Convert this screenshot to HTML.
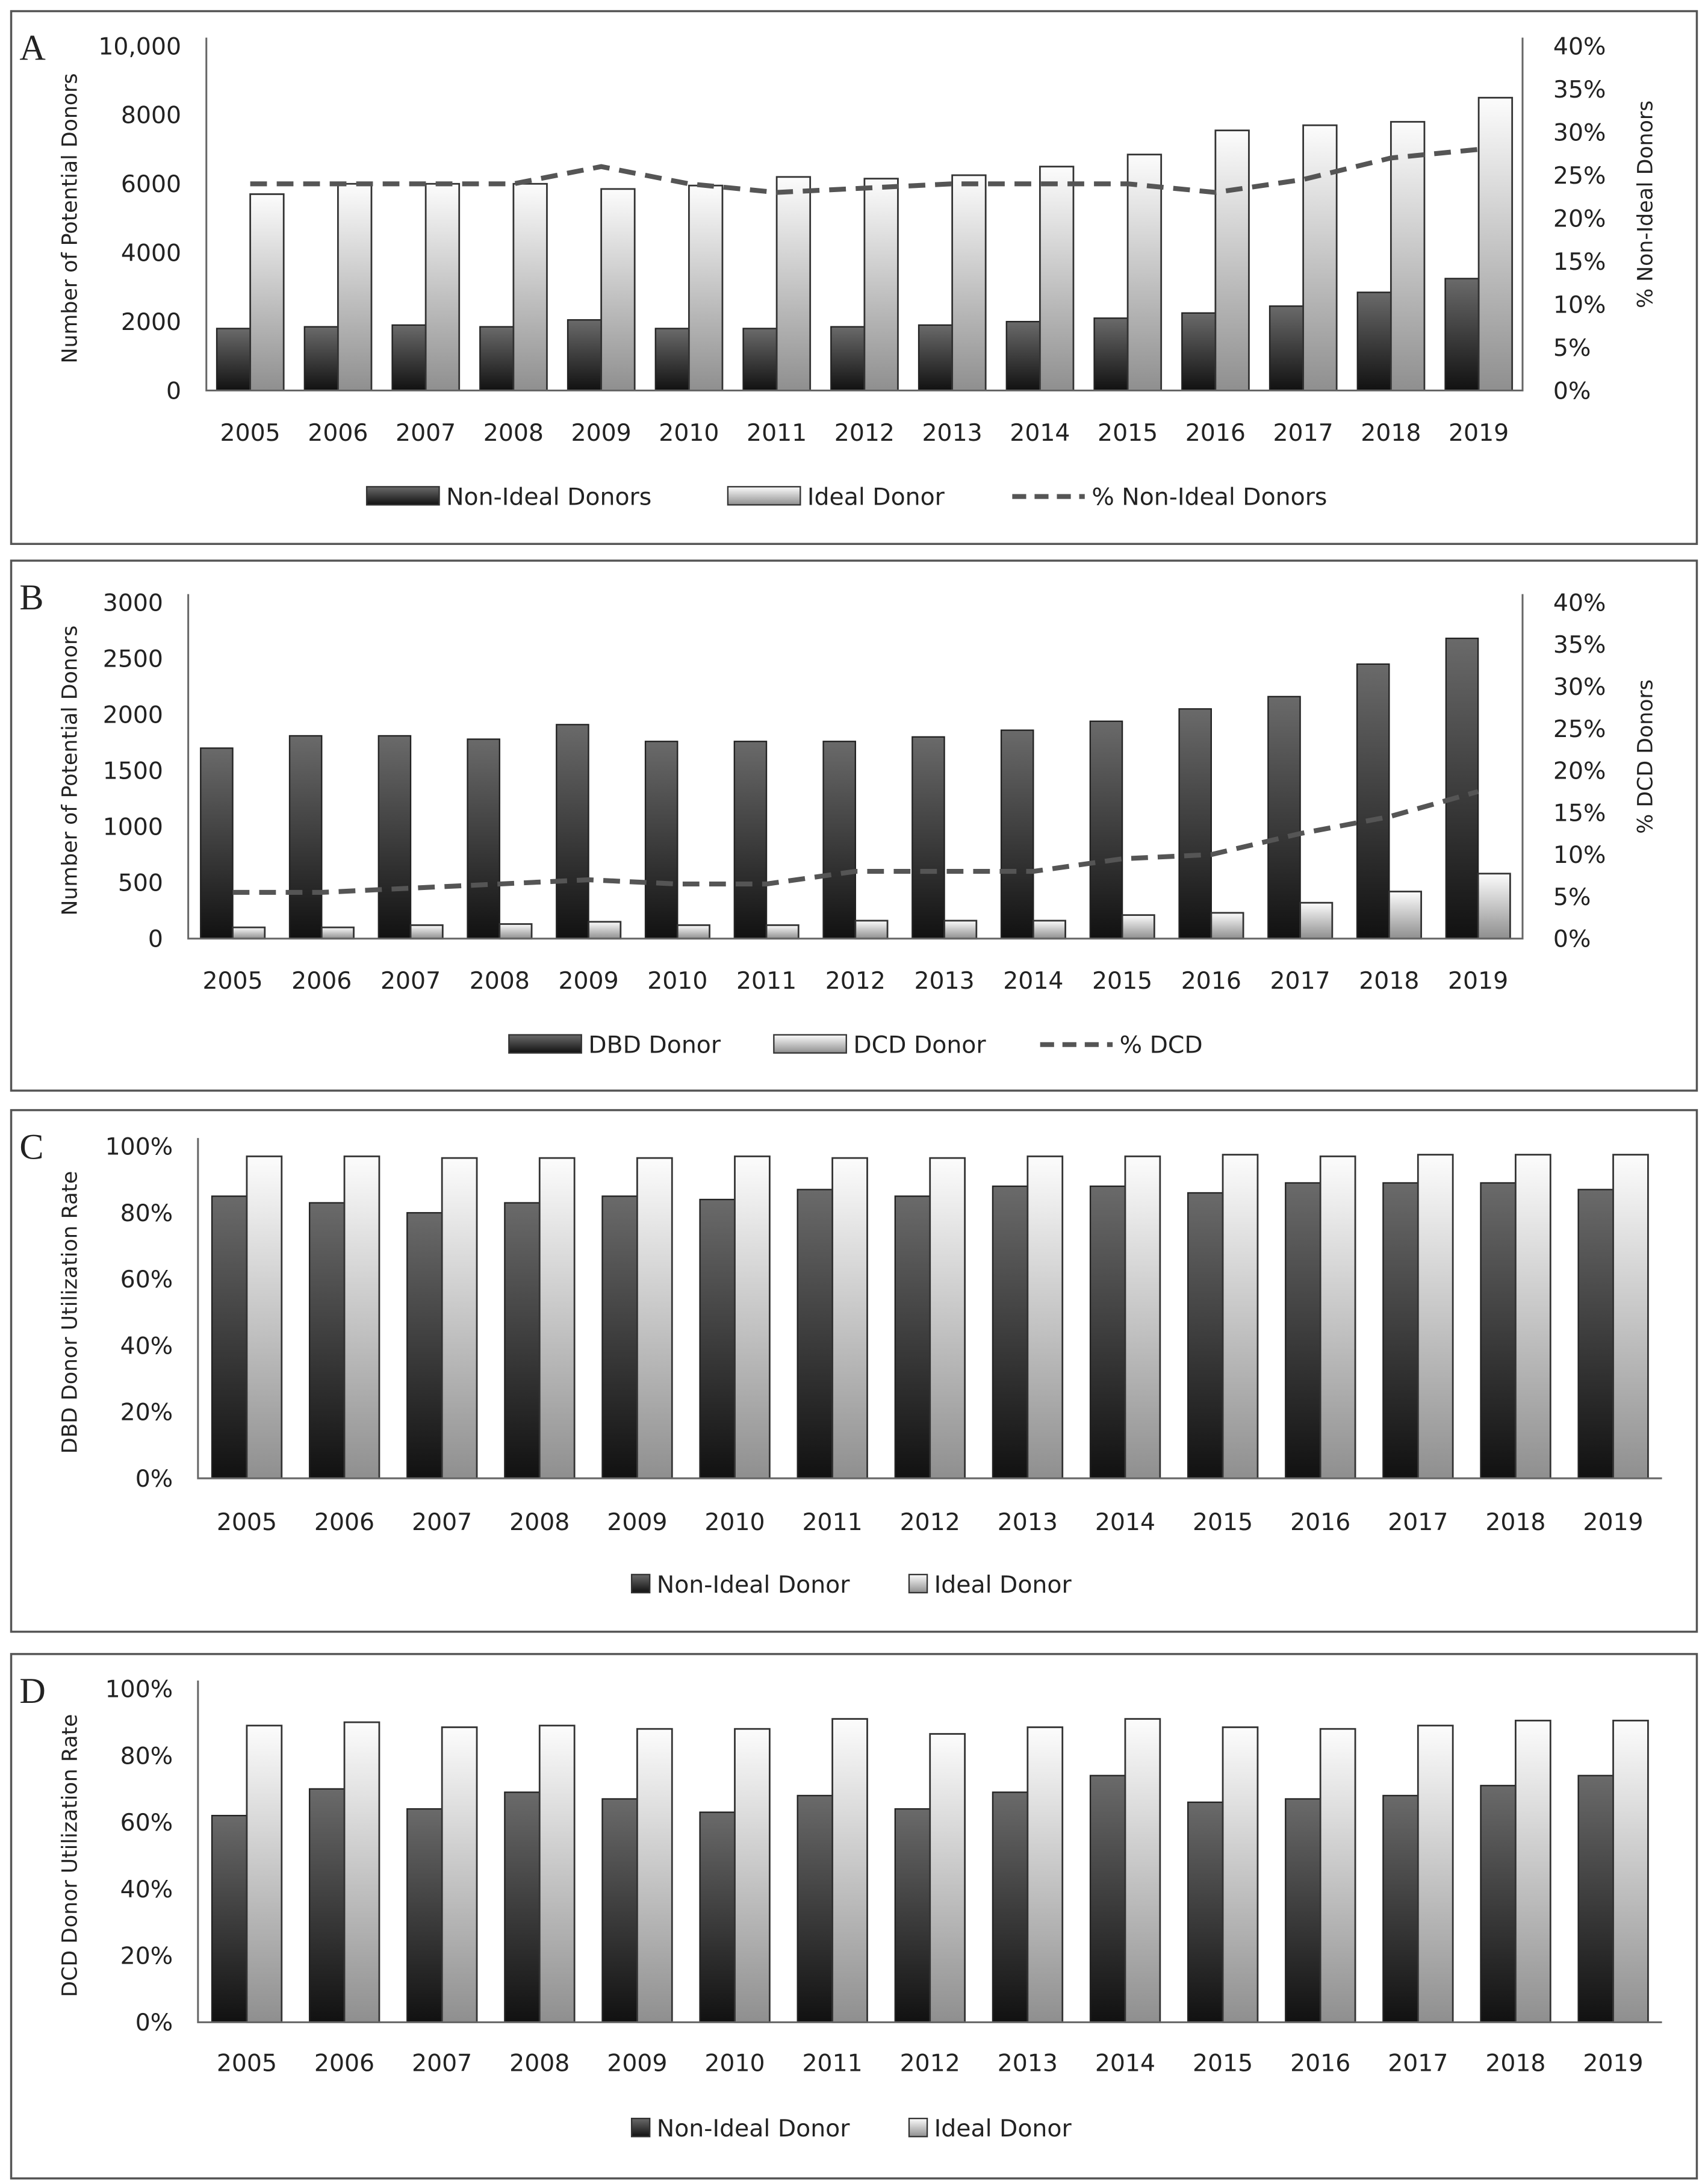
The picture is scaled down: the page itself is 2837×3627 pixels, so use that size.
<!DOCTYPE html>
<html><head><meta charset="utf-8"><style>
html,body{margin:0;padding:0;background:#fff;}
svg{display:block;}
text{font-family:"DejaVu Sans","Liberation Sans",sans-serif;fill:#222;}
</style></head><body>
<svg id="fig" width="2837" height="3627" viewBox="0 0 1225 1566" preserveAspectRatio="none" xmlns="http://www.w3.org/2000/svg">
<defs>
<linearGradient id="gDark" x1="0" y1="0" x2="0" y2="1"><stop offset="0" stop-color="#6a6a6a"/><stop offset="1" stop-color="#111"/></linearGradient>
<linearGradient id="gLight" x1="0" y1="0" x2="0" y2="1"><stop offset="0" stop-color="#fcfcfc"/><stop offset="1" stop-color="#8f8f8f"/></linearGradient>
</defs>
</svg>
<script>
const years = ["2005","2006","2007","2008","2009","2010","2011","2012","2013","2014","2015","2016","2017","2018","2019"];
// Panel A
const aNonIdeal = [1800,1850,1900,1850,2050,1800,1800,1850,1900,2000,2100,2250,2450,2850,3250];
const aIdeal = [5700,6000,6000,6000,5850,5950,6200,6150,6250,6500,6850,7550,7700,7800,8500];
const aPct = [24,24,24,24,26,24,23,23.5,24,24,24,23,24.5,27,28];
const aLeftTicks = ["0","2000","4000","6000","8000","10,000"];
const aRightTicks = ["0%","5%","10%","15%","20%","25%","30%","35%","40%"];
// Panel B
const bDBD = [1700,1810,1810,1780,1910,1760,1760,1760,1800,1860,1940,2050,2160,2450,2680];
const bDCD = [100,100,120,130,150,120,120,160,160,160,210,230,320,420,580];
const bPct = [5.5,5.5,6,6.5,7,6.5,6.5,8,8,8,9.5,10,12.5,14.5,17.5];
const bLeftTicks = ["0","500","1000","1500","2000","2500","3000"];
const bRightTicks = ["0%","5%","10%","15%","20%","25%","30%","35%","40%"];
// Panel C
const cNonIdeal = [85,83,80,83,85,84,87,85,88,88,86,89,89,89,87];
const cIdeal = [97,97,96.5,96.5,96.5,97,96.5,96.5,97,97,97.5,97,97.5,97.5,97.5];
// Panel D
const dNonIdeal = [62,70,64,69,67,63,68,64,69,74,66,67,68,71,74];
const dIdeal = [89,90,88.5,89,88,88,91,86.5,88.5,91,88.5,88,89,90.5,90.5];
const pctTicks = ["0%","20%","40%","60%","80%","100%"];

const svg = document.getElementById('fig');
const NS = 'http://www.w3.org/2000/svg';
function mk(tag, attrs, parent){
  const e = document.createElementNS(NS, tag);
  for (const k in attrs) e.setAttribute(k, attrs[k]);
  (parent||svg).appendChild(e);
  return e;
}
function txt(s, attrs, parent){ const t = mk('text', attrs, parent); t.textContent = s; return t; }

function panel(cfg){
  const g = mk('g', {});
  
  
  const fr = mk('rect', {x:cfg.fx, y:cfg.fy, width:1209, height:cfg.fh, fill:'none', stroke:'#555', 'stroke-width':1.5}, g);
  
  
  const lt = txt(cfg.letter, {x:cfg.fx+6, y:cfg.fy+35, 'font-size':26, style:'font-family:"Liberation Serif",serif'}, g);
  
  
  const L = cfg.left, R = cfg.right, T = cfg.top, B = cfg.bottom;
  const n = years.length, gw = (R - L) / n;
  const y = v => B - (v / cfg.max) * (B - T);
  const yr = v => B - (v / cfg.rmax) * (B - T);
  // left ticks
  cfg.lticks.forEach((s, i) => {
    const v = cfg.max * i / (cfg.lticks.length - 1);
    const t = txt(s, {x:L - 18, y:y(v) + 6, 'font-size':17, 'text-anchor':'end'}, g);
    
    
  });
  if (cfg.rticks) cfg.rticks.forEach((s, i) => {
    const v = cfg.rmax * i / (cfg.rticks.length - 1);
    const t = txt(s, {x:R + 22, y:yr(v) + 6, 'font-size':17}, g);
    
    
  });
  // bars
  years.forEach((yrS, i) => {
    const c = L + gw * (i + 0.5);
    const s1 = cfg.s1[i], s2 = cfg.s2[i];
    const b1 = mk('rect', {x:c - cfg.bw, y:y(s1), width:cfg.bw, height:B - y(s1), fill:'url(#gDark)', stroke:'#222', 'stroke-width':1}, g);
    
    
    const b2 = mk('rect', {x:c, y:y(s2), width:cfg.bw, height:B - y(s2), fill:'url(#gLight)', stroke:'#333', 'stroke-width':1.2}, g);
    
    
    const xl = txt(yrS, {x:c, y:cfg.xly, 'font-size':17, 'text-anchor':'middle'}, g);
    
    
  });
  // axes
  const ax = mk('path', {d:'M' + L + ' ' + (T - 6) + 'V' + B + 'H' + R + (cfg.rticks ? 'V' + (T - 6) : ''), fill:'none', stroke:'#666', 'stroke-width':1.3}, g);
  
  
  if (cfg.line) {
    const pts = cfg.line.map((v, i) => (L + gw * (i + 0.5)) + ',' + yr(v)).join(' ');
    const pl = mk('polyline', {points:pts, fill:'none', stroke:'#555', 'stroke-width':3.5, 'stroke-dasharray':'12,7'}, g);
    
    
  }
  // titles
  const cy = (T + B) / 2;
  const yt = txt(cfg.ytitle, {x:0, y:0, 'font-size':15, 'text-anchor':'middle', transform:'translate(' + cfg.ytx + ',' + cy + ') rotate(-90)'}, g);
  
  
  if (cfg.y2title) {
    const t2 = txt(cfg.y2title, {x:0, y:0, 'font-size':15, 'text-anchor':'middle', transform:'translate(1185,' + (cy - 10) + ') rotate(-90)'}, g);
    
    
  }
  // legend
  cfg.legend.forEach(le => {
    const lg = mk('g', {}, g);
    
    
    if (le.type === 'line') {
      mk('line', {x1:le.x, x2:le.x + le.w, y1:cfg.ly - 6, y2:cfg.ly - 6, stroke:'#555', 'stroke-width':3.5, 'stroke-dasharray':'10,6'}, lg);
    } else {
      mk('rect', {x:le.x, y:cfg.ly - 13, width:le.w, height:13, fill:le.type === 'dark' ? 'url(#gDark)' : 'url(#gLight)', stroke:'#333', 'stroke-width':1}, lg);
    }
    txt(le.label, {x:le.x + le.w + 5, y:cfg.ly, 'font-size':17}, lg);
  });
}

panel({name:'panel-a', letter:'A', fx:8, fy:8, fh:382, left:148, right:1092, top:33, bottom:280, max:10000, rmax:40,
  lticks:aLeftTicks, rticks:aRightTicks, s1:aNonIdeal, s2:aIdeal, line:aPct, k1:'non-ideal', k2:'ideal', k3:'pct-non-ideal',
  bw:24, xly:316, ytitle:'Number of Potential Donors', ytx:55, y2title:'% Non-Ideal Donors', ly:362,
  legend:[{type:'dark', x:263, w:52, label:'Non-Ideal Donors'},{type:'light', x:522, w:52, label:'Ideal Donor'},{type:'line', x:726, w:52, label:'% Non-Ideal Donors'}]});

panel({name:'panel-b', letter:'B', fx:8, fy:402, fh:380, left:135, right:1092, top:432, bottom:673, max:3000, rmax:40,
  lticks:bLeftTicks, rticks:bRightTicks, s1:bDBD, s2:bDCD, line:bPct, k1:'dbd', k2:'dcd', k3:'pct-dcd',
  bw:23, xly:709, ytitle:'Number of Potential Donors', ytx:55, y2title:'% DCD Donors', ly:755,
  legend:[{type:'dark', x:365, w:52, label:'DBD Donor'},{type:'light', x:555, w:52, label:'DCD Donor'},{type:'line', x:746, w:52, label:'% DCD'}]});

panel({name:'panel-c', letter:'C', fx:8, fy:796, fh:374, left:142, right:1192, top:822, bottom:1060, max:100,
  lticks:pctTicks, s1:cNonIdeal, s2:cIdeal, k1:'non-ideal', k2:'ideal',
  bw:25, xly:1097, ytitle:'DBD Donor Utilization Rate', ytx:55, ly:1142,
  legend:[{type:'dark', x:453, w:13, label:'Non-Ideal Donor'},{type:'light', x:652, w:13, label:'Ideal Donor'}]});

panel({name:'panel-d', letter:'D', fx:8, fy:1186, fh:376, left:142, right:1192, top:1211, bottom:1450, max:100,
  lticks:pctTicks, s1:dNonIdeal, s2:dIdeal, k1:'non-ideal', k2:'ideal',
  bw:25, xly:1485, ytitle:'DCD Donor Utilization Rate', ytx:55, ly:1532,
  legend:[{type:'dark', x:453, w:13, label:'Non-Ideal Donor'},{type:'light', x:652, w:13, label:'Ideal Donor'}]});
</script>
</body></html>
